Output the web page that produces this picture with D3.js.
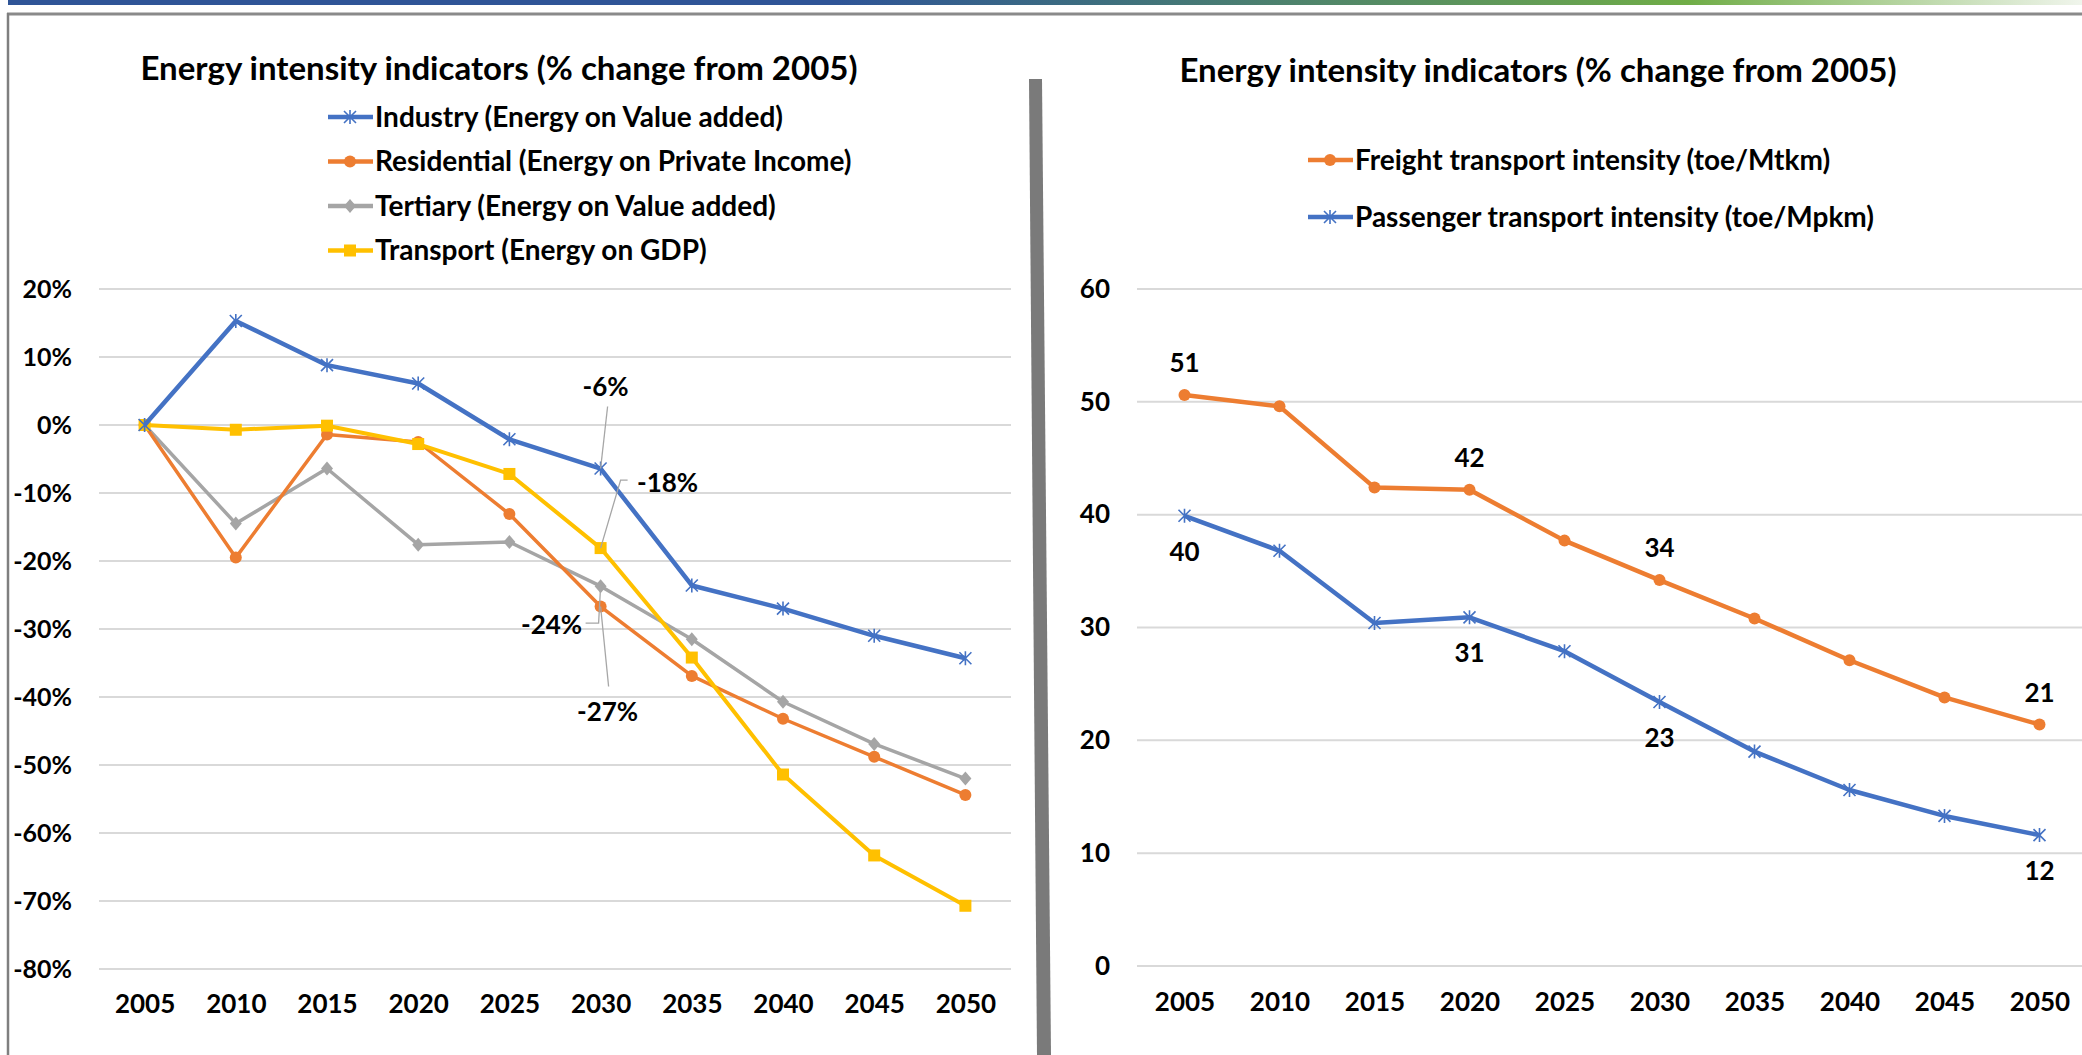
<!DOCTYPE html>
<html>
<head>
<meta charset="utf-8">
<script src="https://cdn.jsdelivr.net/npm/d3@7"></script>
<style>
  body { margin: 0; background: #fff; }
  svg text { font-family: Lato, "Open Sans", sans-serif; font-weight: 700; fill: #000; }
</style>
</head>
<body>
<svg id="chart" width="2082" height="1055"></svg>
<script>
// data
const years = ["2005", "2010", "2015", "2020", "2025", "2030", "2035", "2040", "2045", "2050"];

const industry    = [0, 0.153, 0.088, 0.061, -0.021, -0.064, -0.236, -0.270, -0.310, -0.343];
const residential = [0, -0.195, -0.014, -0.025, -0.131, -0.267, -0.369, -0.432, -0.488, -0.544];
const tertiary    = [0, -0.145, -0.064, -0.176, -0.172, -0.237, -0.315, -0.407, -0.469, -0.520];
const transport   = [0, -0.007, -0.001, -0.028, -0.072, -0.181, -0.342, -0.514, -0.633, -0.707];

const freight   = [50.6, 49.6, 42.4, 42.2, 37.7, 34.2, 30.8, 27.1, 23.8, 21.4];
const passenger = [39.9, 36.8, 30.4, 30.9, 27.9, 23.4, 19.0, 15.6, 13.3, 11.6];

const leftTicks  = [0.2, 0.1, 0, -0.1, -0.2, -0.3, -0.4, -0.5, -0.6, -0.7, -0.8];
const rightTicks = [0, 10, 20, 30, 40, 50, 60];

const chartTitle = "Energy intensity indicators (% change from 2005)";

const locale = d3.formatLocale({ decimal: ".", thousands: ",", grouping: [3], currency: ["", ""], minus: "-" });
const pct = locale.format(".0%");

const svg = d3.select("#chart");

// ---- page frame ----
const grad = svg.append("defs").append("linearGradient").attr("id", "topbar");
[[0, "#2F5597"], [0.40, "#2F5597"], [0.53, "#3E6F7E"], [0.81, "#70AD47"], [1, "#F0F5EC"]]
  .forEach(s => grad.append("stop").attr("offset", s[0]).attr("stop-color", s[1]));
svg.append("rect").attr("x", 8).attr("y", 0).attr("width", 2074).attr("height", 5).attr("fill", "url(#topbar)");
svg.append("line").attr("x1", 7).attr("x2", 2082).attr("y1", 14).attr("y2", 14)
  .attr("stroke", "#8a8a8a").attr("stroke-width", 3);
svg.append("line").attr("x1", 8).attr("x2", 8).attr("y1", 13).attr("y2", 1055)
  .attr("stroke", "#7f7f7f").attr("stroke-width", 2.5);
svg.append("path").attr("d", "M1029,79 L1042,79 L1051,1055 L1037,1055 Z").attr("fill", "#7a7a7a");

// ---- markers ----
function drawMarker(g, type, color, x, y) {
  if (type === "star") {
    const s = 6;
    g.append("path")
      .attr("d", `M${x - s},${y - s}L${x + s},${y + s}M${x - s},${y + s}L${x + s},${y - s}M${x},${y - s - 1}L${x},${y + s + 1}`)
      .attr("stroke", color).attr("stroke-width", 1.6).attr("fill", "none");
  } else if (type === "circle") {
    g.append("circle").attr("cx", x).attr("cy", y).attr("r", 6).attr("fill", color);
  } else if (type === "diamond") {
    g.append("path").attr("d", `M${x},${y - 7}L${x + 6},${y}L${x},${y + 7}L${x - 6},${y}Z`).attr("fill", color);
  } else if (type === "square") {
    g.append("rect").attr("x", x - 6).attr("y", y - 6).attr("width", 12).attr("height", 12).attr("fill", color);
  }
}

function drawSeries(g, x, y, values, s) {
  const line = d3.line().x((d, i) => x(years[i])).y(d => y(d));
  g.append("path").datum(values).attr("d", line)
    .attr("fill", "none").attr("stroke", s.color).attr("stroke-width", s.width)
    .attr("stroke-linejoin", "round");
  values.forEach((v, i) => drawMarker(g, s.marker, s.color, x(years[i]), y(v)));
}

function drawLegend(g, items, x0, y0, dy, fontSize) {
  items.forEach((s, i) => {
    const yy = y0 + i * dy;
    g.append("line").attr("x1", x0).attr("x2", x0 + 45).attr("y1", yy).attr("y2", yy)
      .attr("stroke", s.color).attr("stroke-width", 4.5);
    drawMarker(g, s.marker, s.color, x0 + 22, yy);
    g.append("text").attr("x", x0 + 47).attr("y", yy).attr("dy", "0.35em")
      .style("font-size", fontSize + "px").text(s.name);
  });
}

function drawGrid(g, y, ticks, x1, x2) {
  g.selectAll(null).data(ticks).join("line")
    .attr("x1", x1).attr("x2", x2)
    .attr("y1", d => y(d)).attr("y2", d => y(d))
    .attr("stroke", "#d9d9d9").attr("stroke-width", 2);
}

// ---- left chart ----
const left = svg.append("g");
const xL = d3.scalePoint().domain(years).range([99, 1011]).padding(0.5);
const yL = d3.scaleLinear().domain([-0.8, 0.2]).range([969, 289]);

drawGrid(left, yL, leftTicks, 99, 1011);

const yAxisL = left.append("g").attr("transform", "translate(80,0)")
  .call(d3.axisLeft(yL).tickValues(leftTicks).tickFormat(pct).tickSize(0).tickPadding(8));
yAxisL.select(".domain").remove();
yAxisL.selectAll("text").style("font-size", "25px");

const xAxisL = left.append("g").attr("transform", "translate(0,992)")
  .call(d3.axisBottom(xL).tickSize(0).tickPadding(3));
xAxisL.select(".domain").remove();
xAxisL.selectAll("text").style("font-size", "26px");

const leftSeries = [
  { name: "Industry (Energy on Value added)", values: industry, color: "#4472C4", marker: "star", width: 4.5 },
  { name: "Residential (Energy on Private Income)", values: residential, color: "#ED7D31", marker: "circle", width: 3.5 },
  { name: "Tertiary (Energy on Value added)", values: tertiary, color: "#A5A5A5", marker: "diamond", width: 3.5 },
  { name: "Transport (Energy on GDP)", values: transport, color: "#FFC000", marker: "square", width: 4 }
];

// draw order: tertiary, residential, transport, industry on top
[leftSeries[2], leftSeries[1], leftSeries[3], leftSeries[0]].forEach(s => drawSeries(left, xL, yL, s.values, s));

// data labels at 2030 with leader lines (offsets relative to the point)
const i30 = years.indexOf("2030");
const leftLabels = [
  { s: industry,    lx: 5,   ly: -82, leader: [[7, -62], [0, 0]] },
  { s: transport,   lx: 67,  ly: -65, leader: [[27, -68], [20, -68], [0, 0]] },
  { s: tertiary,    lx: -49, ly: 39,  leader: [[-15, 37], [-2, 37], [0, 0]] },
  { s: residential, lx: 7,   ly: 105, leader: [[8, 80], [0, 0]] }
];
leftLabels.forEach(l => {
  const px = xL(years[i30]), py = yL(l.s[i30]);
  left.append("path")
    .attr("d", d3.line()(l.leader.map(p => [px + p[0], py + p[1]])))
    .attr("fill", "none").attr("stroke", "#a6a6a6").attr("stroke-width", 1.3);
  left.append("text").attr("x", px + l.lx).attr("y", py + l.ly).attr("dy", "0.35em")
    .attr("text-anchor", "middle").style("font-size", "26px")
    .text(pct(Math.round(l.s[i30] * 100) / 100));
});

left.append("text").attr("x", 499).attr("y", 68).attr("dy", "0.35em")
  .attr("text-anchor", "middle").style("font-size", "33px").text(chartTitle);

drawLegend(left, leftSeries, 328, 117, 44.5, 28);

// ---- right chart ----
const right = svg.append("g");
const xR = d3.scalePoint().domain(years).range([1137, 2087]).padding(0.5);
const yR = d3.scaleLinear().domain([0, 60]).range([966, 289]);

drawGrid(right, yR, rightTicks, 1137, 2082);

const yAxisR = right.append("g").attr("transform", "translate(1118,0)")
  .call(d3.axisLeft(yR).tickValues(rightTicks).tickSize(0).tickPadding(8));
yAxisR.select(".domain").remove();
yAxisR.selectAll("text").style("font-size", "26px");

const xAxisR = right.append("g").attr("transform", "translate(0,990)")
  .call(d3.axisBottom(xR).tickSize(0).tickPadding(3));
xAxisR.select(".domain").remove();
xAxisR.selectAll("text").style("font-size", "26px");

const rightSeries = [
  { name: "Freight transport intensity (toe/Mtkm)", values: freight, color: "#ED7D31", marker: "circle", width: 4.5, dy: -32 },
  { name: "Passenger transport intensity (toe/Mpkm)", values: passenger, color: "#4472C4", marker: "star", width: 4.5, dy: 36 }
];
rightSeries.forEach(s => drawSeries(right, xR, yR, s.values, s));

const labelYears = ["2005", "2020", "2030", "2050"];
rightSeries.forEach(s => {
  labelYears.forEach(yr => {
    const i = years.indexOf(yr);
    right.append("text").attr("x", xR(yr)).attr("y", yR(s.values[i]) + s.dy).attr("dy", "0.35em")
      .attr("text-anchor", "middle").style("font-size", "26px").text(Math.round(s.values[i]));
  });
});

right.append("text").attr("x", 1538).attr("y", 70).attr("dy", "0.35em")
  .attr("text-anchor", "middle").style("font-size", "33px").text(chartTitle);

drawLegend(right, rightSeries, 1308, 160, 57, 28);
</script>
</body>
</html>
